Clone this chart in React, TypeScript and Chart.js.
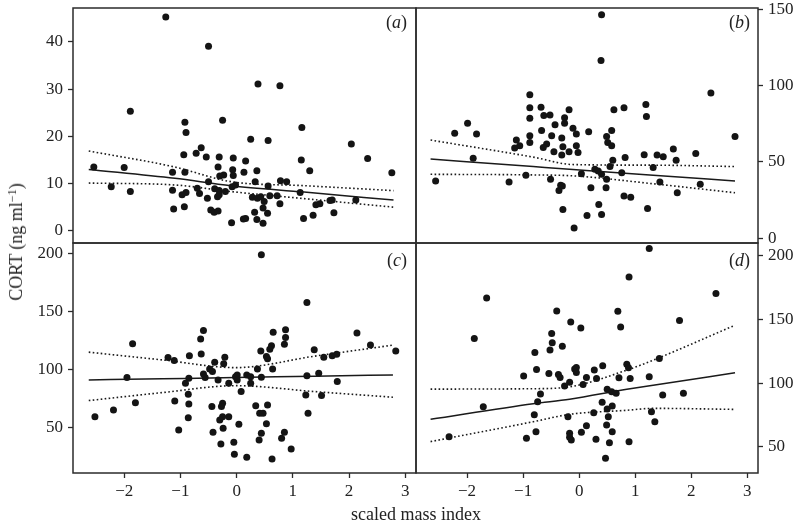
import React, { useEffect, useRef } from "react";
import { Chart, registerables } from "chart.js";

Chart.register(...registerables);

const FONT = "'Liberation Serif', 'DejaVu Serif', serif";
const X_MIN = -2.91;
const X_MAX = 3.19;
const xTicks = [-2, -1, 0, 1, 2, 3];

// ---- panel (a) ----
const aX = [-1.26,-0.50,-1.89,-0.92,-0.90,-0.25,-0.63,-0.72,-0.94,-0.54,-0.31,-0.06,-2.54,-2.00,-0.33,-1.14,-0.92,-0.07,-0.30,-0.23,-0.06,-0.50,-2.23,-1.89,-1.14,-0.70,-0.66,-0.90,-0.97,-0.39,-0.31,-0.20,-0.08,-0.52,-0.34,-0.31,-1.12,-0.93,-0.46,-0.40,-0.33,-0.09,
  0.38,0.77,1.16,0.25,0.56,2.04,0.16,1.15,2.33,0.13,0.36,1.30,2.76,-0.02,0.33,0.56,0.78,0.89,0.28,0.37,0.43,0.49,0.59,0.72,0.77,1.13,1.41,1.48,1.66,1.70,2.12,0.32,0.47,0.55,0.12,0.16,0.36,0.47,1.19,1.36,1.73];
const aY = [45.3,39.1,25.3,23.0,20.8,23.4,17.6,16.4,16.1,15.6,15.6,15.4,13.5,13.4,13.5,12.4,12.4,12.9,11.6,11.8,11.7,10.4,9.3,8.3,8.6,9.0,7.9,8.1,7.6,8.9,8.5,8.3,9.3,6.9,7.2,7.6,4.6,5.1,4.4,3.9,4.2,1.7,
  31.1,30.7,21.9,19.4,19.1,18.4,14.8,15.0,15.3,12.4,12.7,12.7,12.3,9.7,10.4,9.5,10.6,10.4,7.1,6.9,7.2,6.2,7.4,7.4,5.7,8.1,5.5,5.7,6.4,6.5,6.5,3.9,4.8,3.7,2.5,2.6,2.4,1.6,2.6,3.3,3.8];
const aCurveX = [-2.63, -1.1, -0.1, 1.2, 2.79];
const aFit = [13.0, 11.1, 9.55, 8.2, 6.5];
const aUpper = [16.9, 13.5, 10.4, 9.55, 8.5];
const aLower = [10.1, 9.7, 8.3, 6.8, 5.0];
const aTicks = [0, 10, 20, 30, 40];

// ---- panel (b) ----
const bX = [-2.56,-2.22,-1.99,-1.83,-1.89,-1.25,-0.95,-0.88,-0.88,-0.88,-0.68,-0.63,-0.52,-0.18,-0.26,-0.43,-0.26,-0.11,-0.67,-0.49,-0.31,-0.88,-1.12,-1.06,-1.15,-0.88,-0.58,-0.64,-0.45,-0.29,-0.31,-0.18,-0.51,-0.33,-0.36,-0.30,-0.29,-0.09,
  0.40,0.39,2.35,1.19,1.20,0.62,0.80,-0.05,0.17,0.58,0.49,0.51,0.58,-0.05,-0.02,2.78,0.82,1.16,1.39,1.50,1.68,1.73,2.08,0.60,0.55,1.32,0.28,0.34,0.40,0.49,0.04,0.76,1.44,2.16,0.21,0.48,0.80,0.92,1.75,0.35,1.22,0.14,0.40];
const bY = [37.5,68.8,75.4,68.4,52.5,36.8,41.3,94.2,85.6,78.7,86.0,80.5,80.9,84.3,79.0,74.5,75.4,72.1,70.6,67.3,65.7,67.3,64.4,60.6,59.1,62.8,61.8,59.5,56.7,60.0,54.5,56.7,38.6,34.7,31.3,34.2,18.8,6.6,
  146.6,116.7,95.3,87.8,79.8,84.3,85.6,68.4,69.9,70.6,66.8,62.8,60.6,60.6,56.2,66.8,52.9,54.7,54.5,53.4,58.5,51.2,55.6,51.2,47.0,46.3,45.2,44.1,41.9,38.6,42.3,43.0,36.8,35.3,33.1,33.1,27.6,26.9,29.8,22.1,19.4,14.8,15.5];
const bCurveX = [-2.65, -0.82, -0.11, 1.32, 2.78];
const bFit = [51.9, 47.0, 45.1, 41.3, 37.5];
const bUpper = [64.4, 53.2, 48.3, 47.9, 47.0];
const bLower = [41.9, 41.5, 40.9, 35.7, 29.8];
const bTicks = [0, 50, 100, 150];

// ---- panel (c) ----
const cX = [-2.52,-2.19,-1.85,-1.95,-1.80,-1.22,-1.11,-0.84,-1.10,-1.03,-0.85,-0.91,-0.86,-0.85,-0.86,-0.59,-0.64,-0.63,-0.39,-0.21,-0.23,-0.48,-0.43,-0.59,-0.56,-0.33,-0.14,-0.02,-0.44,-0.25,-0.27,-0.25,-0.30,-0.14,-0.24,-0.42,-0.28,-0.05,-0.04,
  0.44,1.25,2.14,0.65,0.87,0.87,0.85,0.62,0.59,0.43,0.53,0.55,1.38,1.55,1.70,1.78,2.38,2.83,0.37,0.64,0.01,0.18,0.25,0.01,0.25,0.44,1.25,1.46,1.79,0.08,1.23,1.51,0.34,0.55,0.41,0.47,1.27,0.04,0.53,0.44,0.40,0.85,0.80,0.97,0.18,0.63];
const cY = [59.2,65.0,122.2,93.0,71.3,110.3,107.7,111.8,72.8,47.7,92.5,88.1,78.6,70.2,58.3,133.7,126.3,113.5,106.3,110.7,104.9,100.5,98.2,96.2,93.0,91.0,88.1,93.8,67.9,70.8,67.9,59.2,56.3,59.2,49.1,45.7,35.5,37.0,26.6,
  199.3,158.0,131.5,132.3,134.3,127.6,121.9,120.5,117.6,116.1,111.2,109.2,117.0,110.7,111.8,113.3,121.1,116.1,100.5,100.5,95.3,95.3,93.8,91.0,88.1,93.3,94.5,96.8,89.5,80.9,78.0,77.4,68.7,69.3,62.1,62.1,62.1,52.6,53.1,44.8,39.0,45.7,40.5,31.2,24.0,22.5];
const cCurveX = [-2.63, -1.32, -0.02, 1.38, 2.78];
const cFit = [91.0, 92.0, 93.0, 94.2, 95.3];
const cUpper = [115.0, 108.3, 101.6, 111.5, 121.1];
const cLower = [73.1, 80.0, 86.0, 80.9, 76.0];
const cTicks = [50, 100, 150, 200];

// ---- panel (d) ----
const dX = [-2.32,-1.87,-1.65,-1.71,-0.99,-0.76,-0.79,-0.69,-0.74,-0.80,-0.77,-0.94,-0.40,-0.49,-0.48,-0.52,-0.30,-0.15,-0.54,-0.37,-0.34,-0.26,-0.17,-0.08,-0.20,-0.17,-0.17,-0.14,
  1.25,0.89,2.44,0.69,1.79,0.03,0.74,1.43,-0.05,-0.05,0.27,0.42,0.85,0.88,0.13,0.31,0.71,0.91,1.25,0.07,0.50,0.58,0.66,1.49,1.86,0.41,0.50,0.59,0.26,1.29,1.35,0.52,0.13,0.49,0.04,0.59,0.30,0.54,0.89,0.47];
const dY = [58.1,135.1,166.9,81.6,105.6,110.8,124.2,91.5,85.5,75.3,62.0,56.8,156.7,139.0,131.7,126.0,129.1,148.1,107.7,106.9,104.6,97.8,100.7,111.1,73.7,60.7,57.6,55.5,
  205.6,183.4,170.4,156.5,149.2,143.4,144.2,119.5,112.4,108.5,110.3,113.7,114.8,112.1,104.6,103.8,104.3,103.8,105.1,99.1,95.2,93.3,92.1,90.7,92.1,85.0,79.8,82.1,76.9,77.6,69.8,73.7,66.7,67.2,61.5,62.0,56.0,53.4,54.2,41.2];
const dCurveX = [-2.65, -0.82, -0.17, 0.85, 1.32, 2.78];
const dFit = [71.7, 84.0, 87.5, 95.3, 98.5, 108.2];
const dUpper = [95.4, 95.7, 97.2, 110.3, 118.1, 145.5];
const dLower = [54.2, 69.8, 75.6, 78.8, 80.3, 79.5];
const dTicks = [50, 100, 150, 200];

type Panel = {
  id: string;
  left: number; top: number; width: number; height: number;
  pad: { left: number; right: number; top: number; bottom: number };
  side: "left" | "right"; yAxisWidth: number; showX: boolean; xAxisHeight: number;
  xs: number[]; ys: number[]; curveX: number[]; fit: number[]; upper: number[]; lower: number[];
  yMin: number; yMax: number; yTicks: number[];
};

const panels: Panel[] = [
  { id: "a", left: 0, top: 0, width: 420, height: 246, pad: { left: 0, right: 4, top: 8, bottom: 3 },
    side: "left", yAxisWidth: 73, showX: false, xAxisHeight: 0,
    xs: aX, ys: aY, curveX: aCurveX, fit: aFit, upper: aUpper, lower: aLower, yMin: -2.6, yMax: 47.2, yTicks: aTicks },
  { id: "b", left: 412, top: 0, width: 386, height: 246, pad: { left: 4, right: 0, top: 8, bottom: 3 },
    side: "right", yAxisWidth: 40, showX: false, xAxisHeight: 0,
    xs: bX, ys: bY, curveX: bCurveX, fit: bFit, upper: bUpper, lower: bLower, yMin: -3.2, yMax: 151.1, yTicks: bTicks },
  { id: "c", left: 0, top: 240, width: 420, height: 285, pad: { left: 0, right: 4, top: 3, bottom: 0 },
    side: "left", yAxisWidth: 73, showX: true, xAxisHeight: 52,
    xs: cX, ys: cY, curveX: cCurveX, fit: cFit, upper: cUpper, lower: cLower, yMin: 10.4, yMax: 209.5, yTicks: cTicks },
  { id: "d", left: 412, top: 240, width: 386, height: 285, pad: { left: 4, right: 0, top: 3, bottom: 0 },
    side: "right", yAxisWidth: 40, showX: true, xAxisHeight: 52,
    xs: dX, ys: dY, curveX: dCurveX, fit: dFit, upper: dUpper, lower: dLower, yMin: 29.6, yMax: 210, yTicks: dTicks },
];

const framePlugin = {
  id: "frame",
  afterDraw(chart: any) {
    const { ctx, chartArea: a } = chart;
    ctx.save();
    ctx.strokeStyle = "#2b2b2b";
    ctx.lineWidth = 1.5;
    ctx.strokeRect(a.left, a.top, a.right - a.left, a.bottom - a.top);
    ctx.restore();
  },
};

const fmt = (v: number) => (v < 0 ? "\u2212" + Math.abs(v) : String(v));

function PanelChart({ p }: { p: Panel }) {
  const ref = useRef<HTMLCanvasElement | null>(null);
  useEffect(() => {
    if (!ref.current) return;
    const curve = (ys: number[]) => p.curveX.map((x, i) => ({ x, y: ys[i] }));
    const tickGrid = { drawOnChartArea: false, drawTicks: true, tickLength: 5, tickColor: "#2b2b2b", tickWidth: 1.3 };
    const chart = new Chart(ref.current, {
      type: "scatter",
      data: {
        datasets: [
          { data: p.xs.map((x, i) => ({ x, y: p.ys[i] })), pointRadius: 3.5, pointBackgroundColor: "#141414",
            pointBorderWidth: 0, showLine: false, order: 0 } as any,
          { data: curve(p.fit), showLine: true, pointRadius: 0, borderColor: "#1a1a1a", borderWidth: 1.5,
            cubicInterpolationMode: "monotone", order: 1 } as any,
          { data: curve(p.upper), showLine: true, pointRadius: 0, borderColor: "#1a1a1a", borderWidth: 1.6,
            borderDash: [1.6, 2.4], cubicInterpolationMode: "monotone", order: 1 } as any,
          { data: curve(p.lower), showLine: true, pointRadius: 0, borderColor: "#1a1a1a", borderWidth: 1.6,
            borderDash: [1.6, 2.4], cubicInterpolationMode: "monotone", order: 1 } as any,
        ],
      },
      options: {
        animation: false,
        responsive: false,
        devicePixelRatio: 1,
        layout: { padding: p.pad, autoPadding: false } as any,
        plugins: { legend: { display: false }, tooltip: { enabled: false } },
        scales: {
          x: {
            type: "linear", min: X_MIN, max: X_MAX, display: p.showX,
            afterBuildTicks: (s: any) => { s.ticks = xTicks.map((v) => ({ value: v })); },
            afterFit: (s: any) => { s.height = p.xAxisHeight; s.paddingLeft = 0; s.paddingRight = 0; },
            grid: tickGrid as any,
            border: { display: false },
            ticks: { font: { family: FONT, size: 17 }, color: "#222", padding: 3, maxRotation: 0, autoSkip: false,
              callback: (v: any) => fmt(Number(v)) },
          },
          y: {
            type: "linear", position: p.side, min: p.yMin, max: p.yMax,
            afterBuildTicks: (s: any) => { s.ticks = p.yTicks.map((v) => ({ value: v })); },
            afterFit: (s: any) => { s.width = p.yAxisWidth; s.paddingTop = 0; s.paddingBottom = 0; },
            grid: tickGrid as any,
            border: { display: false },
            ticks: { font: { family: FONT, size: 17 }, color: "#222", padding: 5, autoSkip: false,
              callback: (v: any) => fmt(Number(v)) },
          },
        },
      },
      plugins: [framePlugin],
    });
    return () => chart.destroy();
  }, [p]);
  return (
    <canvas ref={ref} width={p.width} height={p.height}
      style={{ position: "absolute", left: p.left, top: p.top, width: p.width, height: p.height }} />
  );
}

const panelLabelPos = [
  { text: "a", right: 407, cy: 22 },
  { text: "b", right: 750, cy: 22 },
  { text: "c", right: 407, cy: 260 },
  { text: "d", right: 750, cy: 260 },
];

export default function App() {
  return (
    <div style={{ position: "fixed", left: 0, top: 0, width: 798, height: 525, background: "#fff",
      fontFamily: FONT, color: "#222", overflow: "hidden" }}>
      {panels.map((p) => <PanelChart key={p.id} p={p} />)}
      {panelLabelPos.map((l) => (
        <div key={l.text} style={{ position: "absolute", right: 798 - l.right, top: l.cy, transform: "translateY(-50%)",
          fontSize: 18, lineHeight: "20px", whiteSpace: "nowrap" }}>
          (<i>{l.text}</i>)
        </div>
      ))}
      <div style={{ position: "absolute", left: 16, top: 242, transform: "translate(-50%, -50%) rotate(-90deg)",
        fontSize: 18, lineHeight: "20px", whiteSpace: "nowrap" }}>
        CORT (ng ml<sup style={{ fontSize: 12, lineHeight: 0, verticalAlign: "6px" }}>−1</sup>)
      </div>
      <div style={{ position: "absolute", left: 416, top: 514, transform: "translate(-50%, -50%)",
        fontSize: 18, lineHeight: "20px", whiteSpace: "nowrap" }}>
        scaled mass index
      </div>
    </div>
  );
}
